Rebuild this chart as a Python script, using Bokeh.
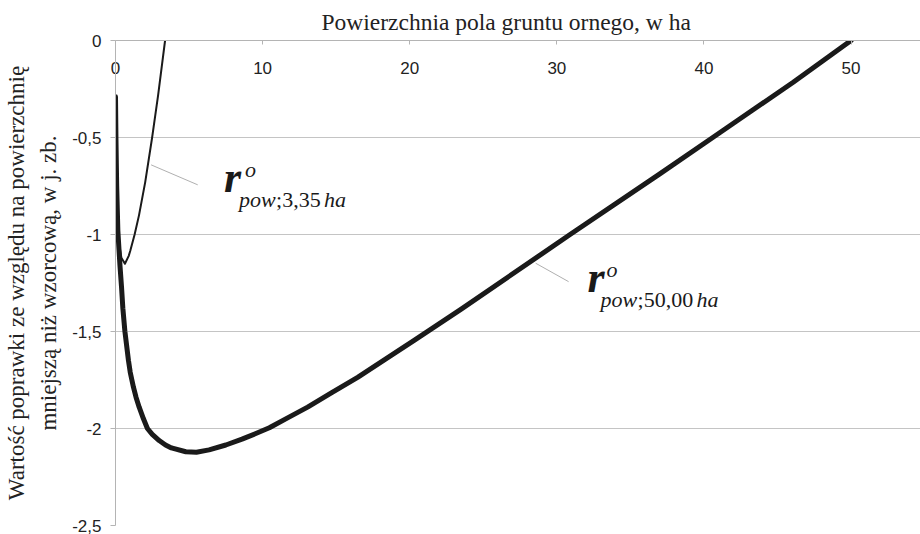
from bokeh.plotting import figure
from bokeh.models import Range1d, FixedTicker, Label, Title
from bokeh.embed import file_html
from bokeh.resources import INLINE

# ---- data ----
x_big = [0.0, 0.03, 0.08, 0.16, 0.30, 0.41, 0.50, 0.64, 0.88, 1.0, 1.22, 1.4, 1.61, 1.9, 2.17, 2.5,
         2.97, 3.4, 3.8, 4.78, 5.5, 6.36, 7.5, 8.6, 9.5, 10.46, 11.7, 13.06, 14.7, 16.46, 18.3,
         20.3, 23.5, 30.9, 37.05, 40.6, 46.07, 50.0]
y_big = [-0.29, -0.50, -0.75, -0.98, -1.156, -1.271, -1.38, -1.50, -1.649, -1.71, -1.787, -1.84,
         -1.89, -1.95, -2.0, -2.03, -2.062, -2.085, -2.10, -2.12, -2.122, -2.11, -2.085, -2.055,
         -2.027, -1.996, -1.945, -1.89, -1.815, -1.736, -1.645, -1.546, -1.385, -1.0, -0.685,
         -0.5, -0.215, 0.0]

x_small = [0.0, 0.03, 0.08, 0.16, 0.25, 0.40, 0.64, 0.90, 1.0, 1.30, 1.60, 2.02, 2.49, 2.90, 3.37]
y_small = [-0.29, -0.50, -0.75, -0.98, -1.05, -1.12, -1.151, -1.11, -1.085, -1.0, -0.90, -0.73,
           -0.50, -0.28, 0.0]

x_ticks = [0, 10, 20, 30, 40, 50]
y_ticks = [0, -0.5, -1, -1.5, -2, -2.5]
y_tick_labels = ["0", "-0,5", "-1", "-1,5", "-2", "-2,5"]

title_text = "Powierzchnia pola gruntu ornego, w ha"
y_title = "Wartość poprawki ze względu na powierzchnię\nmniejszą niż wzorcową, w j. zb."

SERIF = "'Liberation Serif', 'Times New Roman', serif"
SANS = "'Liberation Sans', Arial, sans-serif"

p = figure(width=920, height=534, output_backend="svg", toolbar_location=None,
           x_range=Range1d(0, 54.72), y_range=Range1d(-2.5, 0),
           x_axis_location="above", min_border_left=114, min_border_right=0,
           min_border_top=40, min_border_bottom=9)
p.outline_line_color = None
p.background_fill_color = "white"

t = Title(text=title_text, align="left", offset=206,
          text_font=SERIF, text_font_size="23.5px", text_font_style="normal",
          text_color="#222222", standoff=12)
p.add_layout(t, "above")

# x axis (top) - labels drawn inside the frame via negative standoff
xa = p.xaxis[0]
xa.ticker = FixedTicker(ticks=x_ticks)
xa.axis_line_color = "#b4b4b4"
xa.major_tick_line_color = "#b4b4b4"
xa.major_tick_in = 4
xa.major_tick_out = 0
xa.minor_tick_line_color = None
xa.major_label_text_font = SANS
xa.major_label_text_font_size = "17px"
xa.major_label_text_color = "#222222"
xa.major_label_standoff = -33
p.xgrid.visible = False

ya = p.yaxis[0]
ya.ticker = FixedTicker(ticks=y_ticks)
ya.major_label_overrides = {t_: l_ for t_, l_ in zip(y_ticks, y_tick_labels)}
ya.axis_line_color = "#b4b4b4"
ya.major_tick_line_color = "#b4b4b4"
ya.major_tick_in = 0
ya.major_tick_out = 5
ya.minor_tick_line_color = None
ya.major_label_text_font = SANS
ya.major_label_text_font_size = "17px"
ya.major_label_text_color = "#222222"
ya.major_label_standoff = 9
ya.axis_label = y_title
ya.axis_label_text_font = SERIF
ya.axis_label_text_font_size = "23px"
ya.axis_label_text_font_style = "normal"
ya.axis_label_text_color = "#222222"
ya.axis_label_text_line_height = 1.3
ya.axis_label_standoff = 8
p.ygrid.grid_line_color = "#c4c4c4"
p.ygrid.grid_line_width = 1

# curves
p.line(x_small, y_small, line_color="#1a1a1a", line_width=2, line_join="round")
p.line(x_big, y_big, line_color="#1a1a1a", line_width=5, line_join="round", line_cap="round")

# leader lines
p.line([2.42, 5.59], [-0.641, -0.744], line_color="#b0b0b0", line_width=1)
p.line([28.56, 30.8], [-1.148, -1.243], line_color="#b0b0b0", line_width=1)


def math_label(x, y, sub_parts, o_dx, sub_dx):
    p.add_layout(Label(x=x, y=y, y_offset=14, text="r", text_font=SERIF, text_font_size="44px",
                       text_font_style="bold italic", text_color="#1a1a1a",
                       text_baseline="alphabetic"))
    p.add_layout(Label(x=x, y=y, x_offset=o_dx, y_offset=22, text="o", text_font=SERIF,
                       text_font_size="22px", text_font_style="italic", text_color="#1a1a1a",
                       text_baseline="alphabetic"))
    dx = sub_dx
    for txt, style, w in sub_parts:
        p.add_layout(Label(x=x, y=y, x_offset=dx, y_offset=-8, text=txt, text_font=SERIF,
                           text_font_size="22px", text_font_style=style, text_color="#1a1a1a",
                           text_baseline="alphabetic"))
        dx += w


math_label(7.38, -0.778, [("pow", "italic", 37), (";3,35", "normal", 48), ("ha", "italic", 22)],
           21, 15)
math_label(32.09, -1.294, [("pow", "italic", 37), (";50,00", "normal", 59), ("ha", "italic", 22)],
           19, 13)

open("out.html", "w").write(file_html(p, INLINE))
